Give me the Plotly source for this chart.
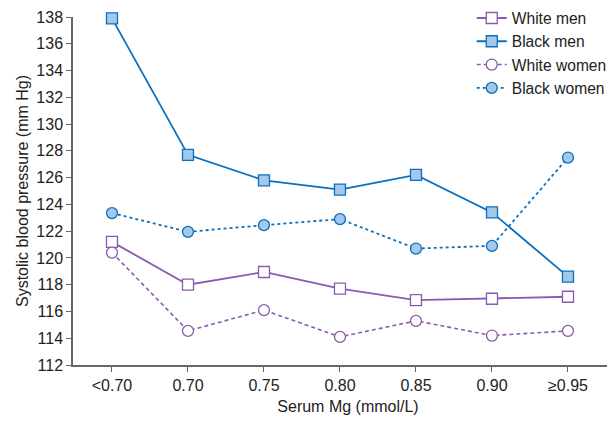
import plotly.graph_objects as go

categories = ["<0.70", "0.70", "0.75", "0.80", "0.85", "0.90", "≥0.95"]
white_men = [121.2, 118.0, 118.95, 117.7, 116.85, 116.95, 117.1]
black_men = [137.9, 127.7, 125.8, 125.1, 126.2, 123.4, 118.6]
white_women = [120.4, 114.55, 116.1, 114.1, 115.3, 114.2, 114.55]
black_women = [123.35, 121.95, 122.45, 122.9, 120.7, 120.9, 127.5]

purple = "#8a5bb0"
blue = "#0a70be"
lightblue = "#a3c8ec"

x = list(range(len(categories)))
fig = go.Figure()
fig.add_trace(go.Scatter(x=x, y=white_men, name="White men", mode="lines+markers",
                         line=dict(color=purple, width=1.8),
                         marker=dict(symbol="square", size=11, color="white", line=dict(color=purple, width=1.3)),
                         cliponaxis=False))
fig.add_trace(go.Scatter(x=x, y=black_men, name="Black men", mode="lines+markers",
                         line=dict(color=blue, width=1.8),
                         marker=dict(symbol="square", size=11, color=lightblue, line=dict(color=blue, width=1.3)),
                         cliponaxis=False))
fig.add_trace(go.Scatter(x=x, y=white_women, name="White women", mode="lines+markers",
                         line=dict(color=purple, width=1.6, dash="4px,3px"),
                         marker=dict(symbol="circle", size=11, color="white", line=dict(color=purple, width=1.3)),
                         cliponaxis=False))
fig.add_trace(go.Scatter(x=x, y=black_women, name="Black women", mode="lines+markers",
                         line=dict(color=blue, width=1.8, dash="3px,3px"),
                         marker=dict(symbol="circle", size=11, color=lightblue, line=dict(color=blue, width=1.3)),
                         cliponaxis=False))

fig.update_layout(
    width=615, height=421,
    margin=dict(l=65, r=0, t=9, b=64, autoexpand=False),
    paper_bgcolor="white", plot_bgcolor="white",
    font=dict(family="Liberation Sans, Arial, sans-serif", size=16, color="#222"),
    showlegend=True,
    legend=dict(x=0.725, y=1.045, xanchor="left", yanchor="top", bgcolor="rgba(0,0,0,0)",
                font=dict(size=15.6), itemwidth=30, tracegroupgap=0),
)
fig.update_xaxes(range=[-0.513, 6.724], tickvals=x, ticktext=categories,
                 showline=True, linecolor="#666", linewidth=1.5,
                 ticks="outside", ticklen=5, tickcolor="#666", showgrid=False, zeroline=False,
                 title=dict(text="Serum Mg (mmol/L)", font=dict(size=16), standoff=8),
                 tickfont=dict(size=16))
fig.update_yaxes(range=[112, 138], dtick=2, tick0=112,
                 showline=True, linecolor="#666", linewidth=1.5,
                 ticks="outside", ticklen=5, tickcolor="#666", showgrid=False, zeroline=False,
                 title=dict(text="Systolic blood pressure (mm Hg)", font=dict(size=16), standoff=4),
                 tickfont=dict(size=16))

fig.write_html("out.html")
